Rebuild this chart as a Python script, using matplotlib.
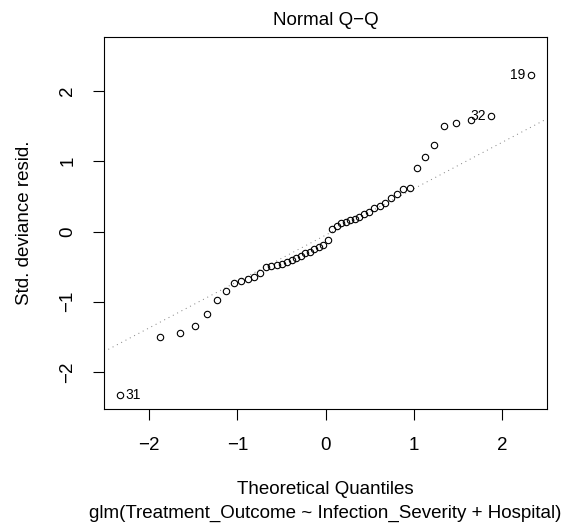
import numpy as np
import matplotlib
matplotlib.use('Agg')
import matplotlib.pyplot as plt

plt.rcParams['font.family'] = ['Liberation Sans', 'DejaVu Sans']

# Cuantiles teóricos (n = 50) y residuos de devianza estandarizados ordenados
teoricos = [-2.326, -1.881, -1.645, -1.476, -1.341, -1.227, -1.126, -1.036, -0.954, -0.878,
            -0.806, -0.739, -0.674, -0.613, -0.553, -0.496, -0.440, -0.385, -0.332, -0.279,
            -0.228, -0.176, -0.126, -0.075, -0.025, 0.025, 0.075, 0.126, 0.176, 0.228,
            0.279, 0.332, 0.385, 0.440, 0.496, 0.553, 0.613, 0.674, 0.739, 0.806,
            0.878, 0.954, 1.036, 1.126, 1.227, 1.341, 1.476, 1.645, 1.881, 2.326]
residuos = [-2.33, -1.50, -1.44, -1.34, -1.18, -0.98, -0.85, -0.73, -0.71, -0.68,
            -0.65, -0.59, -0.50, -0.49, -0.48, -0.46, -0.44, -0.41, -0.38, -0.35,
            -0.31, -0.29, -0.25, -0.22, -0.19, -0.12, 0.03, 0.08, 0.12, 0.14,
            0.16, 0.18, 0.21, 0.25, 0.28, 0.33, 0.37, 0.40, 0.48, 0.54,
            0.61, 0.62, 0.90, 1.06, 1.23, 1.50, 1.55, 1.58, 1.65, 2.23]
# Observaciones etiquetadas: (posición en la lista, etiqueta)
etiquetas = [(0, '31'), (48, '32'), (49, '19')]

x = np.array(teoricos)
y = np.array(residuos)

fig = plt.figure(figsize=(5.7, 5.26), dpi=100)
ax = fig.add_axes([104/570, 1 - 409/526, (547 - 104)/570, (409 - 37)/526])

# qqline: recta por los cuartiles
q1, q3 = np.percentile(y, [25, 75])
slope = (q3 - q1) / (0.6745 * 2)
inter = q1 + slope * 0.6745
xl = np.array([-3, 3])
ax.plot(xl, inter + slope * xl, color='#7F7F7F', lw=0.7, linestyle=(0, (1, 4)), zorder=1)

ax.plot(x, y, 'o', mfc='none', mec='black', ms=4.6, mew=0.8, zorder=2)

for i, lab in etiquetas:
    izq = x[i] < 0
    ax.annotate(lab, (x[i], y[i]), xytext=(3.6 if izq else -3.6, 0), textcoords='offset points',
                ha='left' if izq else 'right', va='center', fontsize=10)

# límites como en plot.lm
rx = x.max() - x.min()
ax.set_xlim(x.min() - 0.04 * rx, x.max() + 0.04 * rx)
ylo, yhi = y.min(), y.max()
yhi = yhi + 0.075 * (yhi - ylo)
ry = yhi - ylo
ax.set_ylim(ylo - 0.04 * ry, yhi + 0.04 * ry)

ax.set_xticks([-2, -1, 0, 1, 2])
ax.set_xticklabels(['\u22122', '\u22121', '0', '1', '2'])
ax.set_yticks([-2, -1, 0, 1, 2])
ax.set_yticklabels(['\u22122', '\u22121', '0', '1', '2'], rotation=90, va='center')
ax.tick_params(direction='out', length=8, width=0.8, pad=12, labelsize=13.5)
for s in ax.spines.values():
    s.set_linewidth(0.8)

fig.text(325.5/570, 1 - 20.7/526, 'Normal Q\u2212Q', ha='center', va='center', fontsize=13.5)
fig.text(325.5/570, 1 - 490/526, 'Theoretical Quantiles', ha='center', va='center', fontsize=13.5)
fig.text(325.5/570, 1 - 513/526, 'glm(Treatment_Outcome ~ Infection_Severity + Hospital)',
         ha='center', va='center', fontsize=13.5)
fig.text(25/570, 1 - 223/526, 'Std. deviance resid.', ha='center', va='center',
         rotation=90, fontsize=13.5)

plt.savefig('out.png', dpi=100)
plt.close()
